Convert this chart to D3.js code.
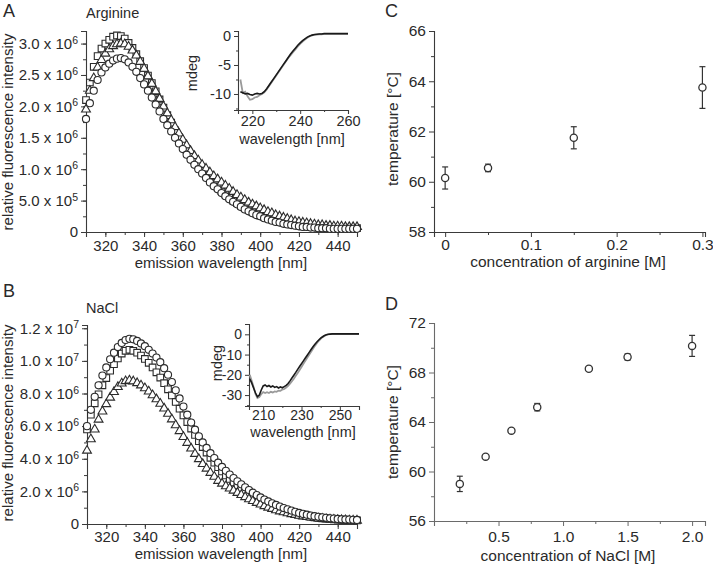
<!DOCTYPE html>
<html><head><meta charset="utf-8">
<script src="https://cdn.jsdelivr.net/npm/d3@7"></script>
<style>
body{margin:0;background:#fff;}
text{font-family:"Liberation Sans",Arial,sans-serif;fill:#2a2a2a;}
</style></head>
<body>
<svg id="fig" width="713" height="564"></svg>
<script>
// ---------- DATA ----------
const wavelengths = d3.range(310, 451, 2); // emission grid, nm
// Panel A (Arginine), relative fluorescence intensity in units of 1e6
const argSquares = [2.10,2.38,2.63,2.80,2.92,3.00,3.06,3.11,3.13,3.12,3.08,3.01,2.93,2.83,2.72,2.61,2.49,2.37,2.24,2.11,1.98,1.86,1.74,1.62,1.51,1.41,1.31,1.22,1.13,1.05,0.97,0.90,0.83,0.77,0.71,0.65,0.60,0.55,0.50,0.46,0.42,0.38,0.35,0.32,0.29,0.26,0.24,0.22,0.20,0.18,0.16,0.15,0.13,0.12,0.11,0.10,0.09,0.09,0.08,0.08,0.07,0.07,0.07,0.06,0.06,0.06,0.06,0.06,0.06,0.06,0.06];
const argTriangles = [1.95,2.25,2.45,2.62,2.74,2.84,2.91,2.96,2.99,3.00,2.99,2.95,2.89,2.81,2.71,2.60,2.48,2.36,2.24,2.12,2.00,1.89,1.78,1.67,1.57,1.47,1.38,1.29,1.21,1.14,1.07,1.01,0.95,0.89,0.84,0.79,0.74,0.69,0.64,0.59,0.55,0.51,0.47,0.44,0.41,0.38,0.35,0.32,0.30,0.27,0.25,0.23,0.21,0.19,0.17,0.16,0.15,0.14,0.13,0.12,0.11,0.11,0.10,0.10,0.09,0.09,0.09,0.08,0.08,0.08,0.08];
const argCircles = [1.80,2.05,2.25,2.42,2.54,2.62,2.68,2.73,2.76,2.77,2.75,2.70,2.63,2.55,2.45,2.35,2.25,2.14,2.03,1.92,1.80,1.70,1.60,1.50,1.41,1.32,1.23,1.15,1.07,1.00,0.93,0.86,0.79,0.73,0.68,0.62,0.57,0.52,0.48,0.44,0.40,0.36,0.33,0.30,0.27,0.25,0.22,0.20,0.18,0.16,0.15,0.13,0.12,0.11,0.10,0.09,0.08,0.08,0.07,0.07,0.06,0.06,0.06,0.05,0.05,0.05,0.05,0.05,0.05,0.05,0.05];
// Panel B (NaCl), units of 1e6
const naclSquares = [5.80,6.70,7.40,7.95,8.50,8.95,9.40,9.80,10.15,10.45,10.62,10.68,10.62,10.50,10.33,10.12,9.88,9.60,9.30,8.98,8.63,8.26,7.88,7.48,7.07,6.66,6.25,5.85,5.46,5.08,4.72,4.38,4.06,3.76,3.48,3.22,2.98,2.76,2.55,2.36,2.18,2.01,1.85,1.70,1.56,1.43,1.31,1.20,1.10,1.01,0.92,0.84,0.77,0.70,0.64,0.58,0.53,0.49,0.45,0.41,0.38,0.35,0.33,0.31,0.29,0.27,0.26,0.25,0.24,0.23,0.22];
const naclTriangles = [4.50,5.20,5.80,6.40,6.90,7.35,7.75,8.10,8.40,8.62,8.76,8.80,8.75,8.64,8.50,8.33,8.13,7.90,7.65,7.38,7.08,6.76,6.42,6.06,5.70,5.34,4.98,4.63,4.30,3.98,3.68,3.40,3.14,2.90,2.65,2.48,2.32,2.18,2.05,1.91,1.78,1.65,1.52,1.41,1.30,1.20,1.10,1.01,0.93,0.85,0.78,0.72,0.66,0.61,0.56,0.51,0.47,0.43,0.40,0.37,0.34,0.32,0.30,0.28,0.26,0.25,0.24,0.23,0.22,0.21,0.21];
const naclCircles = [6.00,7.00,7.80,8.50,9.10,9.60,10.10,10.50,10.85,11.10,11.28,11.35,11.32,11.22,11.07,10.90,10.68,10.45,10.20,9.92,9.55,9.15,8.70,8.20,7.70,7.20,6.70,6.22,5.78,5.38,5.00,4.66,4.34,4.04,3.76,3.50,3.26,3.03,2.82,2.62,2.43,2.25,2.08,1.92,1.77,1.63,1.50,1.38,1.27,1.17,1.07,0.98,0.90,0.82,0.75,0.68,0.62,0.57,0.52,0.48,0.44,0.41,0.38,0.35,0.33,0.31,0.29,0.28,0.27,0.26,0.25];

// CD insets
const cdWlA = d3.range(215, 261, 1);
const cdArgBlack = [-9.6,-9.8,-10.0,-9.9,-10.1,-10.2,-10.0,-9.9,-10.0,-9.9,-9.6,-9.1,-8.5,-7.9,-7.3,-6.7,-6.1,-5.5,-4.9,-4.3,-3.7,-3.1,-2.6,-2.1,-1.6,-1.2,-0.8,-0.5,-0.2,0.0,0.15,0.25,0.3,0.35,0.35,0.4,0.4,0.4,0.4,0.4,0.4,0.4,0.4,0.4,0.4,0.4];
const cdArgGray  = [-7.5,-9.8,-9.6,-10.4,-11.0,-10.9,-10.6,-10.5,-10.2,-10.0,-9.7,-9.2,-8.6,-8.0,-7.4,-6.8,-6.2,-5.6,-5.0,-4.4,-3.8,-3.3,-2.8,-2.3,-1.8,-1.35,-0.95,-0.6,-0.3,-0.05,0.1,0.2,0.25,0.3,0.3,0.35,0.35,0.35,0.35,0.35,0.35,0.35,0.35,0.35,0.35,0.35];
const cdWlB = d3.range(203, 261, 1);
const cdNaclBlack = [-22,-24,-26.5,-29,-30.8,-30,-27.5,-25.5,-25,-25.8,-25.3,-26,-25.5,-26.2,-25.8,-26.5,-26,-26.4,-25.8,-25.2,-24.3,-23,-21.6,-20.2,-18.8,-17.3,-15.9,-14.5,-13.1,-11.7,-10.3,-8.9,-7.5,-6.1,-4.9,-3.8,-2.8,-1.9,-1.2,-0.6,-0.2,0.0,0.1,0.2,0.2,0.2,0.2,0.2,0.2,0.2,0.2,0.2,0.2,0.2,0.2,0.2,0.2,0.2];
const cdNaclGray  = [-20,-23,-26,-29.5,-31.5,-31,-29.5,-28.5,-29,-28.6,-29,-28.4,-28.7,-28.2,-28.4,-27.8,-27.9,-27.3,-27,-26.3,-25.4,-24.4,-23.2,-21.9,-20.5,-19.1,-17.6,-16.1,-14.6,-13.1,-11.6,-10.1,-8.6,-7.1,-5.7,-4.4,-3.2,-2.2,-1.4,-0.8,-0.3,0.0,0.1,0.15,0.15,0.15,0.15,0.15,0.15,0.15,0.15,0.15,0.15,0.15,0.15,0.15,0.15,0.15];

// Melting temperatures
const argConc = [0, 0.05, 0.15, 0.3];
const argTm = [60.15, 60.55, 61.75, 63.75];
const argErr = [0.44, 0.15, 0.44, 0.83];
const naclConc = [0.2, 0.4, 0.6, 0.8, 1.2, 1.5, 2.0];
const naclTm = [59.0, 61.2, 63.3, 65.2, 68.3, 69.25, 70.15];
const naclErr = [0.62, 0.1, 0.1, 0.3, 0.12, 0.25, 0.85];

// tick labels
const yTicksA = [[0,"0"],[0.5,"5.0","5"],[1,"1.0","6"],[1.5,"1.5","6"],[2,"2.0","6"],[2.5,"2.5","6"],[3,"3.0","6"]];
const yTicksB = [[0,"0"],[2,"2.0","6"],[4,"4.0","6"],[6,"6.0","6"],[8,"8.0","6"],[10,"1.0","7"],[12,"1.2","7"]];
const xTicksSpec = [320,340,360,380,400,420,440];

// ---------- DRAW ----------
const svg = d3.select("#fig");
const TXT = "#2a2a2a";

function axis(g, gen, scale, majors, minors, fmt, major, minor, col="#3a3a3a"){
  const a = g.append("g").call(gen(scale).tickValues(minors).tickSize(minor).tickFormat(""));
  const b = g.append("g").call(gen(scale).tickValues(majors).tickSize(major).tickPadding(3).tickFormat(fmt));
  [a,b].forEach(s=>{ s.select(".domain").attr("stroke",col).attr("stroke-width",1.1);
    s.selectAll(".tick line").attr("stroke",col).attr("stroke-width",1);
    s.attr("font-family",null).attr("font-size",null);});
  a.select(".domain").remove();
  return b;
}
function xLabels(b, size, base){
  b.selectAll(".tick text").attr("font-size",size).attr("fill",TXT).attr("y",base).attr("dy",0);
}
function label(x,y,t,size,opts={}){
  const e = svg.append("text").attr("x",x).attr("y",y).attr("font-size",size).text(t);
  if(opts.anchor) e.attr("text-anchor",opts.anchor);
  if(opts.rot) e.attr("transform",`rotate(-90,${x},${y})`);
  return e;
}

function spectrumPanel(cfg){
  const x = d3.scaleLinear().domain([310,450]).range([cfg.x0, cfg.x1]);
  const y = d3.scaleLinear().domain(cfg.ydom).range([cfg.yb, cfg.yt]);
  const g = svg.append("g");
  const gx = g.append("g").attr("transform",`translate(0,${cfg.yb})`);
  const bx = axis(gx, d3.axisBottom, x, xTicksSpec, d3.range(310,451,10), d3.format("d"), 5, 3);
  xLabels(bx, 15, cfg.xlab);
  const gy = g.append("g").attr("transform",`translate(${cfg.x0},0)`);
  const by = axis(gy, d3.axisLeft, y, cfg.yticks.map(d=>d[0]), cfg.yminor, "", 5, 3);
  by.selectAll(".tick text").each(function(v,i){
    const t = d3.select(this).attr("font-size",15).attr("fill",TXT);
    const s = cfg.yticks[i];
    if(s.length===2){ t.text(s[1]); }
    else { t.text(s[1]+" x 10"); t.append("tspan").attr("dy","-0.5em").attr("font-size",10.5).text(s[2]); }
  });
  const sets = [[cfg.sq,d3.symbolSquare,44],[cfg.tr,d3.symbolTriangle,34],[cfg.ci,d3.symbolCircle,40]];
  sets.forEach(([vals,sym,size])=>{
    g.append("g").selectAll("path").data(vals).join("path")
      .attr("d",d3.symbol().type(sym).size(size))
      .attr("transform",(d,i)=>`translate(${x(wavelengths[i])},${y(d)})`)
      .attr("fill","#fff").attr("stroke","#2b2b2b").attr("stroke-width",1.1);
  });
  return {x,y};
}

// Panel A
label(3,17,"A",18);
label(86,18,"Arginine",14.5);
spectrumPanel({x0:86,x1:357,yb:232,yt:31,ydom:[0,3.2],yticks:yTicksA,yminor:d3.range(0,3.2,0.25),
  sq:argSquares,tr:argTriangles,ci:argCircles,xlab:19});
label(221,268,"emission wavelength [nm]",15,{anchor:"middle"});
label(13,132,"relative fluorescence intensity",15,{anchor:"middle",rot:true});

// Panel B
label(3,297,"B",18);
label(86,313,"NaCl",14.5);
spectrumPanel({x0:87,x1:357,yb:524,yt:325,ydom:[0,12.2],yticks:yTicksB,yminor:d3.range(0,12.2,1),
  sq:naclSquares,tr:naclTriangles,ci:naclCircles,xlab:18});
label(221,559,"emission wavelength [nm]",15,{anchor:"middle"});
label(13,423,"relative fluorescence intensity",15,{anchor:"middle",rot:true});

// Insets
function inset(cfg){
  const x = d3.scaleLinear().domain(cfg.xdom).range([cfg.x0,cfg.x1]);
  const y = d3.scaleLinear().domain(cfg.ydom).range([cfg.yb,cfg.yt]);
  const g = svg.append("g");
  const gx = g.append("g").attr("transform",`translate(0,${cfg.yb})`);
  const bx = axis(gx,d3.axisBottom,x,cfg.xt,cfg.xm,d3.format("d"),4,2);
  xLabels(bx, cfg.fs, cfg.xlab);
  const gy = g.append("g").attr("transform",`translate(${cfg.x0},0)`);
  const by = axis(gy,d3.axisLeft,y,cfg.yt_,cfg.ym,d => d===0?"0":"-"+Math.abs(d),4,2);
  by.selectAll("text").attr("font-size",cfg.fs).attr("fill",TXT);
  const line = d3.line().x((d,i)=>x(cfg.wl[i])).y(d=>y(d));
  g.append("path").attr("d",line(cfg.gray)).attr("fill","none").attr("stroke","#9a9a9a").attr("stroke-width",1.8);
  g.append("path").attr("d",line(cfg.black)).attr("fill","none").attr("stroke","#1a1a1a").attr("stroke-width",1.6);
  return {x,y};
}
inset({x0:238,x1:348,yb:110,yt:31,xdom:[214,260],ydom:[-12.76,0.86],xt:[220,240,260],xm:[230,250],
  yt_:[0,-5,-10],ym:[-2.5,-7.5,-12.5],wl:cdWlA,black:cdArgBlack,gray:cdArgGray,xlab:16,fs:14.5});
label(292,144,"wavelength [nm]",14.5,{anchor:"middle"});
label(197,73,"mdeg",14.5,{anchor:"middle",rot:true});

inset({x0:249,x1:359,yb:406,yt:324,xdom:[202.6,260],ydom:[-35.4,5.1],xt:[210,230,250],xm:[220,240,260],
  yt_:[0,-10,-20,-30],ym:[-5,-15,-25,-35],wl:cdWlB,black:cdNaclBlack,gray:cdNaclGray,xlab:14,fs:14});
label(303,437,"wavelength [nm]",14.5,{anchor:"middle"});
label(222,363,"mdeg",14.5,{anchor:"middle",rot:true});

// Tm panels
function tmPanel(cfg){
  const x = d3.scaleLinear().domain(cfg.xdom).range([434,705]);
  const y = d3.scaleLinear().domain(cfg.ydom).range([cfg.yb,cfg.yt]);
  const g = svg.append("g");
  const gx = g.append("g").attr("transform",`translate(0,${cfg.yb})`);
  const bx = axis(gx,d3.axisBottom,x,cfg.xt,cfg.xm,cfg.xf,5,3,cfg.col);
  xLabels(bx, 15.5, cfg.xlab);
  const gy = g.append("g").attr("transform",`translate(434,0)`);
  const by = axis(gy,d3.axisLeft,y,cfg.yt_,cfg.ym,d3.format("d"),5,3,cfg.col);
  by.selectAll("text").attr("font-size",15.5).attr("fill",TXT);
  const pts = g.append("g").selectAll("g").data(cfg.cx).join("g");
  pts.append("line").attr("x1",(d)=>x(d)).attr("x2",d=>x(d))
    .attr("y1",(d,i)=>y(cfg.ty[i]-cfg.err[i])).attr("y2",(d,i)=>y(cfg.ty[i]+cfg.err[i]))
    .attr("stroke","#333").attr("stroke-width",1.2);
  [1,-1].forEach(sg=>pts.append("line").attr("x1",d=>x(d)-3).attr("x2",d=>x(d)+3)
    .attr("y1",(d,i)=>y(cfg.ty[i]+sg*cfg.err[i])).attr("y2",(d,i)=>y(cfg.ty[i]+sg*cfg.err[i]))
    .attr("stroke","#333").attr("stroke-width",1.2));
  pts.append("circle").attr("cx",d=>x(d)).attr("cy",(d,i)=>y(cfg.ty[i])).attr("r",3.6)
    .attr("fill","#fff").attr("stroke","#333").attr("stroke-width",1.3);
}
label(385,17,"C",18);
tmPanel({xdom:[-0.013,0.303],ydom:[58,66],yb:232,yt:31,xt:[0,0.1,0.2,0.3],xm:[0.05,0.15,0.25],
  xf:d=>d===0?"0":String(d),yt_:[58,60,62,64,66],ym:[59,61,63,65],cx:argConc,ty:argTm,err:argErr,xlab:18,col:"#3a3a3a"});
label(568,267,"concentration of arginine [M]",15.5,{anchor:"middle"});
label(398,129,"temperature [°C]",15.5,{anchor:"middle",rot:true});

label(385,310,"D",18);
tmPanel({xdom:[0,2.1],ydom:[56,72],yb:521,yt:323,xt:[0.5,1.0,1.5,2.0],xm:[0.25,0.75,1.25,1.75],
  xf:d3.format(".1f"),yt_:[56,60,64,68,72],ym:[58,62,66,70],cx:naclConc,ty:naclTm,err:naclErr,xlab:21,col:"#6a6a6a"});
label(568,561,"concentration of NaCl [M]",15.5,{anchor:"middle"});
label(398,422,"temperature [°C]",15.5,{anchor:"middle",rot:true});
</script>
</body></html>
